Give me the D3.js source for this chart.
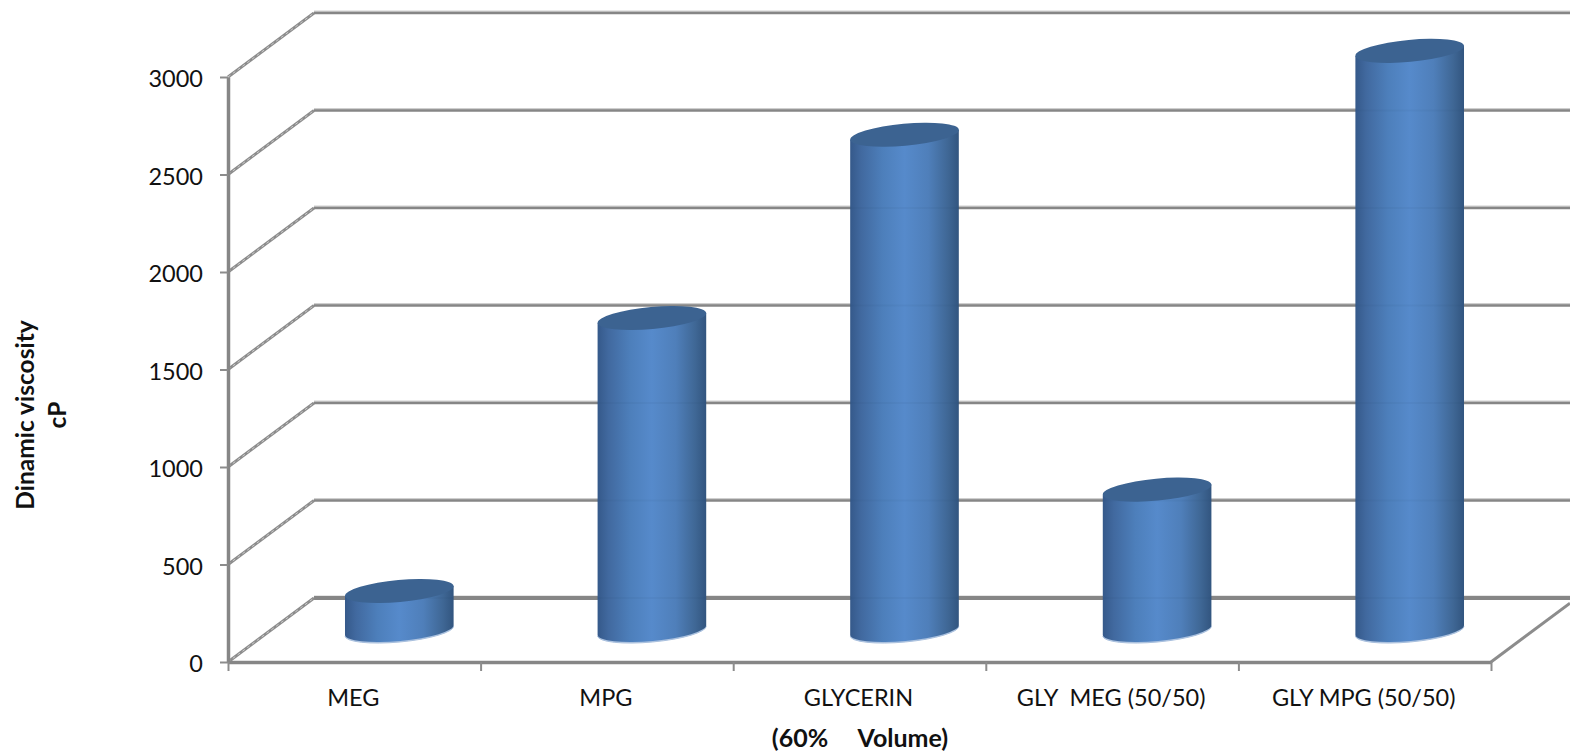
<!DOCTYPE html>
<html>
<head>
<meta charset="utf-8">
<script src="https://cdn.jsdelivr.net/npm/d3@7"></script>
<style>
    html, body { margin: 0; padding: 0; background: #fff; overflow: hidden; }
    text { font-family: Lato, "Open Sans", sans-serif; fill: #111; white-space: pre; }
</style>
</head>
<body>
<svg id="chart" width="1570" height="753"></svg>
<script>
const categories = ['MEG', 'MPG', 'GLYCERIN', 'GLY  MEG (50/50)', 'GLY MPG (50/50)'];
const viscosity = [200, 1600, 2540, 720, 2970];
const yTicks = [0, 500, 1000, 1500, 2000, 2500, 3000];

const width = 1570, height = 753;
const plot = { left: 228, right: 1491, top: 77, bottom: 662 };
// offset of the back wall from the front plane
const depth = { x: 86, y: -64 };
const tilt = -5.3;

const svg = d3.select('#chart');

const xscale = d3.scaleBand().domain(categories).range([plot.left, plot.right]);
const yscale = d3.scaleLinear().domain([0, 3000]).range([plot.bottom, plot.top]);
// only for the tick marks between the categories
const xedges = d3.scaleLinear().domain([0, categories.length]).range([plot.left, plot.right]);

const grad = svg.append('defs').append('linearGradient')
    .attr('id', 'body').attr('x1', 0).attr('x2', 1).attr('y1', 0).attr('y2', 0);
[[0, '#35598a'], [0.1, '#41699f'], [0.3, '#4d7fbb'], [0.5, '#568acb'],
 [0.72, '#4f7fba'], [0.9, '#3f6795'], [1, '#32557f']].forEach(s => {
    grad.append('stop').attr('offset', s[0]).attr('stop-color', s[1]);
});

// back wall gridlines and the diagonal from the axis to the wall
const grid = svg.append('g');
yTicks.forEach(t => {
    const y = yscale(t);
    const back = y + depth.y;
    const isFloor = t === 0;
    grid.append('line')
        .attr('x1', plot.left + depth.x).attr('x2', width)
        .attr('y1', back - 1.5).attr('y2', back - 1.5)
        .attr('stroke', '#cfcfcf').attr('stroke-width', 2);
    grid.append('line')
        .attr('x1', plot.left + depth.x).attr('x2', width)
        .attr('y1', back).attr('y2', back)
        .attr('stroke', '#868686').attr('stroke-width', isFloor ? 4 : 2.6);
    grid.append('line')
        .attr('x1', plot.left).attr('x2', plot.left + depth.x)
        .attr('y1', y).attr('y2', back)
        .attr('stroke', '#8c8c8c').attr('stroke-width', 3);
    grid.append('line')
        .attr('x1', plot.left).attr('x2', plot.left + depth.x)
        .attr('y1', y).attr('y2', back)
        .attr('stroke', '#dcdcdc').attr('stroke-width', 0.8)
        .attr('stroke-dasharray', '3 3');
});

// right edge of the floor
const floorEnd = width - plot.right;
grid.append('line')
    .attr('x1', plot.right).attr('x2', width)
    .attr('y1', plot.bottom).attr('y2', plot.bottom + depth.y * floorEnd / depth.x)
    .attr('stroke', '#8c8c8c').attr('stroke-width', 3);

const yaxis = d3.axisLeft(yscale).tickValues(yTicks).tickFormat(d3.format('d'))
    .tickSize(8).tickPadding(17).tickSizeOuter(0);
const yaxis_group = svg.append('g')
    .attr('transform', `translate(${plot.left}, 0)`)
    .call(yaxis);
yaxis_group.selectAll('text')
    .attr('y', 2)
    .style('font-size', '23.5px').style('font-family', 'Lato');

const xaxis = d3.axisBottom(xedges).ticks(categories.length).tickFormat('').tickSize(9).tickSizeOuter(0);
const xaxis_group = svg.append('g')
    .attr('transform', `translate(0, ${plot.bottom})`)
    .call(xaxis);

[yaxis_group, xaxis_group].forEach(g => {
    g.select('.domain').attr('stroke', '#868686').attr('stroke-width', 3.5);
    g.selectAll('.tick line').attr('stroke', '#8c8c8c').attr('stroke-width', 2);
});

// cylinders, standing about halfway between the front plane and the back wall
const rx = xscale.bandwidth() * 0.215;
const ry = 11;
const slope = Math.tan(tilt * Math.PI / 180);
const cx = d => xscale(d.name) + xscale.bandwidth() / 2 + depth.x / 2 + 2;
const baseY = yscale(0) + depth.y / 2;
const topY = d => baseY - (yscale(0) - yscale(d.value));
const data = categories.map((name, i) => ({ name: name, value: viscosity[i] }));
const arcRx = rx / Math.cos(tilt * Math.PI / 180);

const bars = svg.append('g').selectAll('g').data(data).enter().append('g');

// light rim under the base
bars.append('path')
    .attr('d', d => {
        const l = cx(d) - rx, r = cx(d) + rx;
        return `M${l},${baseY - rx * slope} A${arcRx},${ry} ${tilt} 0 0 ${r},${baseY + rx * slope} Z`;
    })
    .attr('fill', '#a9c0de')
    .attr('stroke', '#a9c0de')
    .attr('transform', 'translate(0, 1)');

bars.append('path')
    .attr('d', d => {
        const l = cx(d) - rx, r = cx(d) + rx;
        const t = topY(d);
        return `M${l},${t - rx * slope} L${l},${baseY - rx * slope}`
            + ` A${arcRx},${ry} ${tilt} 0 0 ${r},${baseY + rx * slope}`
            + ` L${r},${t + rx * slope} Z`;
    })
    .attr('fill', 'url(#body)');

// gridlines show faintly through the cylinders
yTicks.forEach(t => {
    const back = yscale(t) + depth.y;
    bars.filter(d => back > topY(d) && back < baseY)
        .append('line')
        .attr('x1', d => cx(d) - rx).attr('x2', d => cx(d) + rx)
        .attr('y1', back).attr('y2', back)
        .attr('stroke', '#24426b').attr('stroke-opacity', 0.06).attr('stroke-width', 2);
});

bars.append('ellipse')
    .attr('cx', 0).attr('cy', 0)
    .attr('rx', arcRx).attr('ry', ry)
    .attr('transform', d => `translate(${cx(d)}, ${topY(d)}) rotate(${tilt})`)
    .attr('fill', '#3c6391');

// category labels
svg.append('g').selectAll('text').data(categories).enter().append('text')
    .attr('x', d => xscale(d) + xscale.bandwidth() / 2 - 1)
    .attr('y', 706)
    .attr('text-anchor', 'middle')
    .style('font-size', '23.5px')
    .text(d => d);

svg.append('text')
    .attr('x', 860)
    .attr('y', 747)
    .attr('text-anchor', 'middle')
    .style('font-size', '25px')
    .style('font-weight', 'bold')
    .text('(60%     Volume)');

const ylabel = svg.append('text')
    .attr('transform', 'translate(34, 415) rotate(-90)')
    .attr('text-anchor', 'middle')
    .style('font-size', '24.5px')
    .style('font-weight', 'bold');
ylabel.append('tspan').attr('x', 0).attr('y', 0).text('Dinamic viscosity');
ylabel.append('tspan').attr('x', 0).attr('y', 32).text('cP');
</script>
</body>
</html>
